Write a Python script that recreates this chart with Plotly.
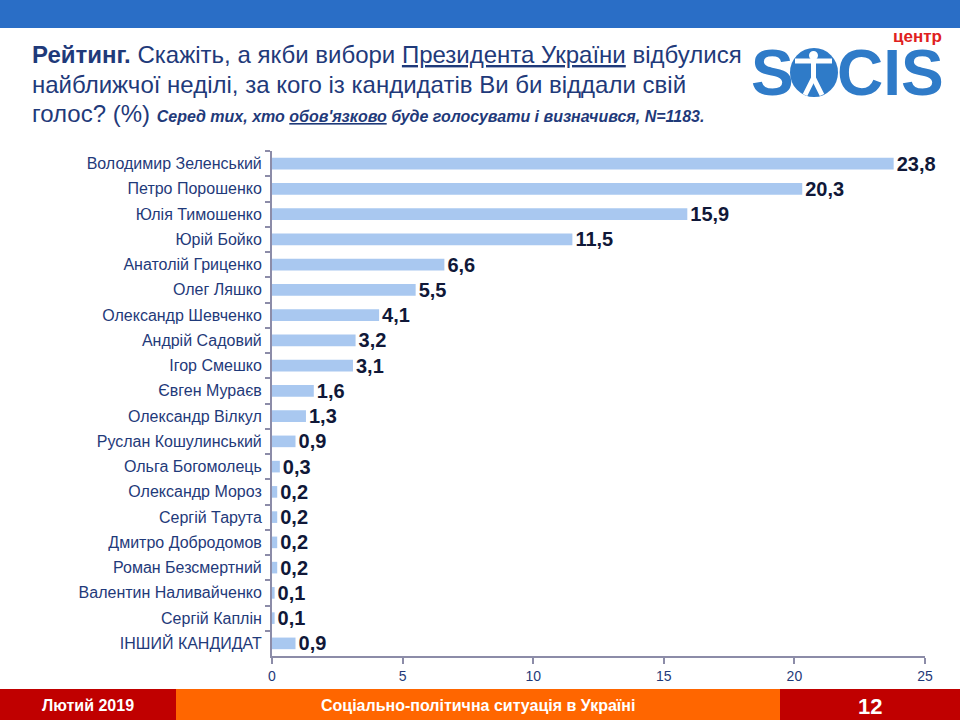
import plotly.graph_objects as go

candidates = [
    "Володимир Зеленський", "Петро Порошенко", "Юлія Тимошенко", "Юрій Бойко",
    "Анатолій Гриценко", "Олег Ляшко", "Олександр Шевченко", "Андрій Садовий",
    "Ігор Смешко", "Євген Мураєв", "Олександр Вілкул", "Руслан Кошулинський",
    "Ольга Богомолець", "Олександр Мороз", "Сергій Тарута", "Дмитро Добродомов",
    "Роман Безсмертний", "Валентин Наливайченко", "Сергій Каплін", "ІНШИЙ КАНДИДАТ",
]
values = [23.8, 20.3, 15.9, 11.5, 6.6, 5.5, 4.1, 3.2, 3.1, 1.6, 1.3, 0.9,
          0.3, 0.2, 0.2, 0.2, 0.2, 0.1, 0.1, 0.9]
x_ticks = [0, 5, 10, 15, 20, 25]

navy = "#1F3A7A"
labels = [f"{v:.1f}".replace(".", ",") for v in values]

fig = go.Figure(go.Bar(
    y=candidates, x=values, orientation="h",
    marker=dict(color="#A9C8F0", line=dict(width=0)),
    width=0.46,
    text=labels, textposition="outside", cliponaxis=False, constraintext="none",
    textfont=dict(family="Liberation Sans", size=20, color="#101838", weight="bold"),
))

fig.update_layout(
    width=960, height=720,
    margin=dict(l=272, r=35, t=151, b=64),
    paper_bgcolor="white", plot_bgcolor="white",
    showlegend=False,
    font=dict(family="Liberation Sans"),
    xaxis=dict(range=[0, 25], tickvals=x_ticks, showgrid=False, zeroline=False,
               showline=True, linecolor="#8C8CA8", linewidth=2,
               ticks="outside", ticklen=6, tickcolor="#8C8CA8", tickwidth=2,
               tickfont=dict(size=14, color=navy)),
    yaxis=dict(autorange="reversed", showgrid=False, zeroline=False,
               showline=True, linecolor="#8C8CA8", linewidth=2,
               ticks="outside", ticklen=5, tickcolor="#8C8CA8", tickwidth=2,
               tickson="boundaries",
               tickfont=dict(size=16, color=navy), ticklabelstandoff=5),
)

def px_x(x):
    return (x - 272) / (960 - 272 - 35)
def px_y(y):
    return (720 - 64 - y) / (720 - 151 - 64)

def rect(x0, x1, y0, y1, color):
    fig.add_shape(type="rect", xref="paper", yref="paper",
                  x0=px_x(x0), x1=px_x(x1), y0=px_y(y0), y1=px_y(y1),
                  fillcolor=color, line=dict(width=0), layer="below")

rect(0, 960, 0, 28, "#2A6EC6")
rect(0, 176, 689, 720, "#C00000")
rect(176, 780, 689, 720, "#FF6600")
rect(780, 960, 689, 720, "#C00000")

title_font = dict(family="Liberation Sans", size=24, color=navy)
title_lines = [
    "<b>Рейтинг.</b> Скажіть, а якби вибори <u>Президента України</u> відбулися",
    "найближчої неділі, за кого із кандидатів Ви би віддали свій",
    "голос? (%) <b><i><span style='font-size:16px'>Серед тих, хто <u>обов'язково</u> буде голосувати і визначився, N=1183.</span></i></b>",
]
for i, t in enumerate(title_lines):
    fig.add_annotation(text=t, xref="paper", yref="paper",
                       x=px_x(30), y=px_y(54 + 30 * i), xanchor="left", yanchor="middle",
                       showarrow=False, font=title_font)

# logo
logo_blue = "#2F7BC8"
fig.add_annotation(text="<b>S</b>", xref="paper", yref="paper", x=px_x(749), y=px_y(73),
                   xanchor="left", yanchor="middle", showarrow=False,
                   font=dict(family="Liberation Sans", size=64, color=logo_blue))
fig.add_shape(type="circle", xref="paper", yref="paper",
              x0=px_x(790), x1=px_x(838), y0=px_y(48), y1=px_y(97),
              fillcolor=logo_blue, line=dict(width=0))
# simple white figure inside the circle
fig.add_shape(type="circle", xref="paper", yref="paper",
              x0=px_x(809), x1=px_x(818), y0=px_y(51), y1=px_y(60),
              fillcolor="white", line=dict(width=0))
for (xa, ya, xb, yb) in [(813.5, 61, 813.5, 78), (795, 61, 832, 61),
                         (813.5, 78, 805, 95), (813.5, 78, 822, 95)]:
    fig.add_shape(type="line", xref="paper", yref="paper",
                  x0=px_x(xa), x1=px_x(xb), y0=px_y(ya), y1=px_y(yb),
                  line=dict(color="white", width=5))
fig.add_annotation(text="<b>CIS</b>", xref="paper", yref="paper", x=px_x(835), y=px_y(73),
                   xanchor="left", yanchor="middle", showarrow=False,
                   font=dict(family="Liberation Sans", size=64, color=logo_blue))
fig.add_annotation(text="<b>центр</b>", xref="paper", yref="paper", x=px_x(944), y=px_y(36),
                   xanchor="right", yanchor="middle", showarrow=False,
                   font=dict(family="Liberation Sans", size=17, color="#E02020"))

foot = dict(family="Liberation Sans", size=16, color="white")
fig.add_annotation(text="<b>Лютий 2019</b>", xref="paper", yref="paper", x=px_x(88), y=px_y(705),
                   xanchor="center", yanchor="middle", showarrow=False, font=foot)
fig.add_annotation(text="<b>Соціально-політична ситуація в Україні</b>", xref="paper", yref="paper",
                   x=px_x(478), y=px_y(705), xanchor="center", yanchor="middle",
                   showarrow=False, font=foot)
fig.add_annotation(text="<b>12</b>", xref="paper", yref="paper", x=px_x(870), y=px_y(706),
                   xanchor="center", yanchor="middle", showarrow=False,
                   font=dict(family="Liberation Sans", size=22, color="white"))

fig.write_html("out.html", config={"displayModeBar": False},
               post_script="document.body.style.margin='0';document.body.style.overflow='hidden';")
